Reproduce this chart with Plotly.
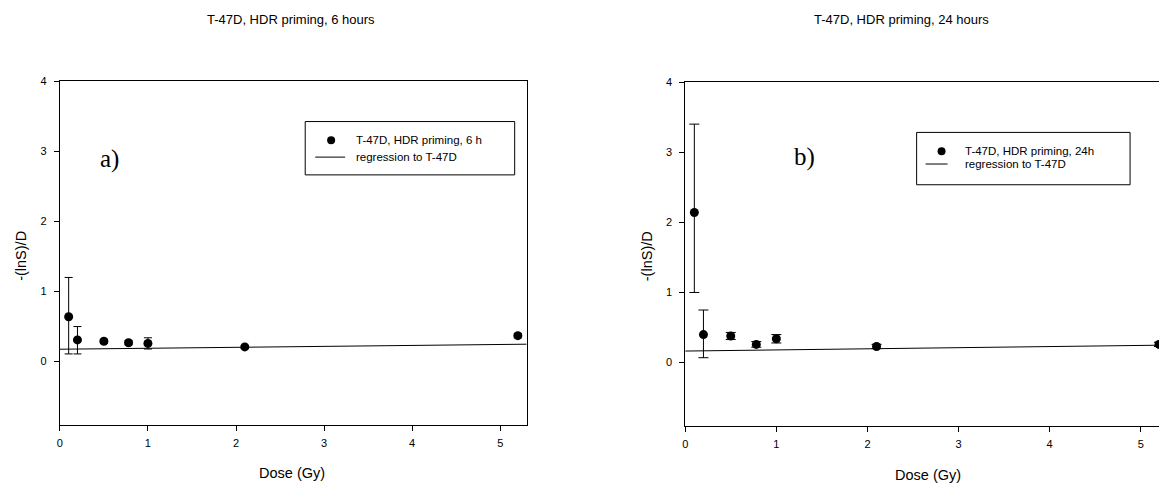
import plotly.graph_objects as go

W, H = 1159, 486

# ---- data: panel a (6 h) ----
dose_a = [0.1, 0.2, 0.5, 0.78, 1.0, 2.1, 5.2]
val_a = [0.64, 0.31, 0.29, 0.27, 0.26, 0.21, 0.37]
err_a_plus = [0.56, 0.19, 0.03, 0.03, 0.08, 0.02, 0.03]
err_a_minus = [0.53, 0.20, 0.03, 0.03, 0.08, 0.02, 0.03]
reg_a = {"intercept": 0.177, "slope": 0.0135}

# ---- data: panel b (24 h) ----
dose_b = [0.1, 0.2, 0.5, 0.78, 1.0, 2.1, 5.2]
val_b = [2.14, 0.40, 0.38, 0.26, 0.34, 0.23, 0.26]
err_b_plus = [1.26, 0.35, 0.05, 0.04, 0.06, 0.03, 0.03]
err_b_minus = [1.14, 0.33, 0.05, 0.04, 0.06, 0.03, 0.03]
reg_b = {"intercept": 0.165, "slope": 0.016}

x_ticks = [0, 1, 2, 3, 4, 5]
y_ticks = [0, 1, 2, 3, 4]
titles = ["T-47D, HDR priming, 6 hours", "T-47D, HDR priming, 24 hours"]
legend_pts = ["T-47D, HDR priming, 6 h", "T-47D, HDR priming, 24h"]
legend_reg = "regression to T-47D"
panel_labels = ["a)", "b)"]
xlabel = "Dose (Gy)"
ylabel = "-(lnS)/D"

xrange_a = [0, 5.3]
xrange_b = [0, 5.2]
yrange = [-0.9, 4]

FONT = "Liberation Sans, Arial, sans-serif"


def px(x):
    return x / W


def py(y):
    return 1 - y / H


fig = go.Figure()

panels = [
    dict(dose=dose_a, val=val_a, ep=err_a_plus, em=err_a_minus, reg=reg_a,
         xr=xrange_a, xa="x", ya="y", capw=4),
    dict(dose=dose_b, val=val_b, ep=err_b_plus, em=err_b_minus, reg=reg_b,
         xr=xrange_b, xa="x2", ya="y2", capw=5),
]

for p in panels:
    rx = [p["xr"][0], p["xr"][1]]
    ry = [p["reg"]["intercept"] + p["reg"]["slope"] * v for v in rx]
    fig.add_trace(go.Scatter(x=rx, y=ry, mode="lines", xaxis=p["xa"], yaxis=p["ya"],
                             line=dict(color="black", width=1), showlegend=False,
                             hoverinfo="skip"))
    fig.add_trace(go.Scatter(
        x=p["dose"], y=p["val"], mode="markers", xaxis=p["xa"], yaxis=p["ya"],
        marker=dict(color="black", size=9),
        error_y=dict(type="data", array=p["ep"], arrayminus=p["em"], symmetric=False,
                     color="black", thickness=1, width=p["capw"]),
        showlegend=False))

axis_common = dict(showgrid=False, zeroline=False, ticks="outside", ticklen=5,
                   tickcolor="black", linecolor="black", linewidth=1,
                   tickfont=dict(family=FONT, size=11, color="black"))

fig.update_layout(
    width=W, height=H, margin=dict(l=0, r=0, t=0, b=0),
    paper_bgcolor="white", plot_bgcolor="white", showlegend=False,
    xaxis=dict(domain=[px(57), px(525)], range=xrange_a, tickvals=x_ticks,
               showline=True, mirror=True, anchor="y", ticklabelstandoff=3,
               **axis_common),
    yaxis=dict(domain=[py(424), py(76)], range=yrange, tickvals=y_ticks,
               showline=True, mirror=True, anchor="x", ticklabelstandoff=5,
               **axis_common),
    xaxis2=dict(domain=[px(684), 1.0], range=xrange_b, tickvals=x_ticks,
                showline=True, mirror=True, anchor="y2", ticklabelstandoff=3,
                **axis_common),
    yaxis2=dict(domain=[py(425), py(77)], range=yrange, tickvals=y_ticks,
                showline=True, mirror=False, anchor="x2", ticklabelstandoff=5,
                **axis_common),
)

ann = []
# titles
for t, cx in zip(titles, [289, 901]):
    ann.append(dict(text=t, x=px(cx), y=py(14), xref="paper", yref="paper",
                    xanchor="center", yanchor="middle", showarrow=False,
                    font=dict(family=FONT, size=13, color="black")))
# axis titles
for cx, cy in [(290, 473), (927, 475)]:
    ann.append(dict(text=xlabel, x=px(cx), y=py(cy), xref="paper", yref="paper",
                    xanchor="center", yanchor="middle", showarrow=False,
                    font=dict(family=FONT, size=14.5, color="black")))
for cx, cy in [(18, 253), (646, 253)]:
    ann.append(dict(text=ylabel, x=px(cx), y=py(cy), xref="paper", yref="paper",
                    xanchor="center", yanchor="middle", showarrow=False, textangle=-90,
                    font=dict(family=FONT, size=14.5, color="black")))
# panel labels
for t, lx, ly in zip(panel_labels, [95, 791], [155, 153]):
    ann.append(dict(text=t, x=px(lx), y=py(ly), xref="paper", yref="paper",
                    xanchor="left", yanchor="middle", showarrow=False,
                    font=dict(family="Liberation Serif, Times New Roman, serif", size=25,
                              color="black")))

shapes = []
legends = [
    dict(box=(303, 117, 513, 171), r1=136, r2=153, mx=329, lx=(313, 343), tx=352,
         label=legend_pts[0]),
    dict(box=(916, 128, 1130, 181), r1=147, r2=160, mx=941, lx=(925, 947), tx=962,
         label=legend_pts[1]),
]
for lg in legends:
    x0, y0, x1, y1 = lg["box"]
    shapes.append(dict(type="rect", xref="paper", yref="paper", x0=px(x0), x1=px(x1),
                       y0=py(y1), y1=py(y0), line=dict(color="black", width=1),
                       fillcolor="white", layer="above"))
    r = 4
    shapes.append(dict(type="circle", xref="paper", yref="paper",
                       x0=px(lg["mx"] - r), x1=px(lg["mx"] + r),
                       y0=py(lg["r1"] + r), y1=py(lg["r1"] - r),
                       fillcolor="black", line=dict(color="black", width=0)))
    shapes.append(dict(type="line", xref="paper", yref="paper",
                       x0=px(lg["lx"][0]), x1=px(lg["lx"][1]),
                       y0=py(lg["r2"]), y1=py(lg["r2"]),
                       line=dict(color="black", width=1)))
    for txt, ry in [(lg["label"], lg["r1"]), (legend_reg, lg["r2"])]:
        ann.append(dict(text=txt, x=px(lg["tx"]), y=py(ry), xref="paper", yref="paper",
                        xanchor="left", yanchor="middle", showarrow=False,
                        font=dict(family=FONT, size=11.5, color="black")))

fig.update_layout(annotations=ann, shapes=shapes)
fig.write_html("out.html")
